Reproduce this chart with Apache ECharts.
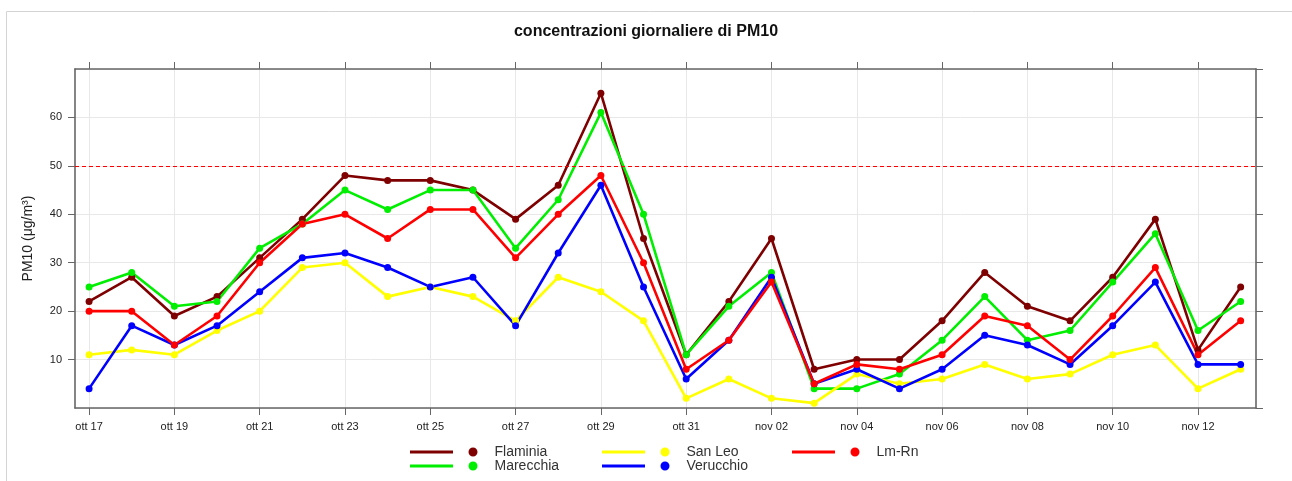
<!DOCTYPE html>
<html>
<head>
<meta charset="utf-8">
<script src="https://cdn.jsdelivr.net/npm/echarts@6/dist/echarts.min.js"></script>
<style>
  html, body { margin: 0; padding: 0; background: #fff; }
  #chart { width: 1292px; height: 481px; }
</style>
</head>
<body>
<div id="chart"></div>
<script>
const days = ['ott 17', 'ott 18', 'ott 19', 'ott 20', 'ott 21', 'ott 22', 'ott 23', 'ott 24', 'ott 25', 'ott 26',
  'ott 27', 'ott 28', 'ott 29', 'ott 30', 'ott 31', 'nov 01', 'nov 02', 'nov 03', 'nov 04', 'nov 05',
  'nov 06', 'nov 07', 'nov 08', 'nov 09', 'nov 10', 'nov 11', 'nov 12', 'nov 13'];

const flaminia  = [22, 27, 19, 23, 31, 39, 48, 47, 47, 45, 39, 46, 65, 35, 11, 22, 35, 8, 10, 10, 18, 28, 21, 18, 27, 39, 12, 25];
const marecchia = [25, 28, 21, 22, 33, 38, 45, 41, 45, 45, 33, 43, 61, 40, 11, 21, 28, 4, 4, 7, 14, 23, 14, 16, 26, 36, 16, 22];
const sanLeo    = [11, 12, 11, 16, 20, 29, 30, 23, 25, 23, 18, 27, 24, 18, 2, 6, 2, 1, 7, 5, 6, 9, 6, 7, 11, 13, 4, 8];
const verucchio = [4, 17, 13, 17, 24, 31, 32, 29, 25, 27, 17, 32, 46, 25, 6, 14, 27, 5, 8, 4, 8, 15, 13, 9, 17, 26, 9, 9];
const lmRn      = [20, 20, 13, 19, 30, 38, 40, 35, 41, 41, 31, 40, 48, 30, 8, 14, 26, 5, 9, 8, 11, 19, 17, 10, 19, 29, 11, 18];

const yTicks = [0, 10, 20, 30, 40, 50, 60, 70];
const limitValue = 50;

const seriesDefs = [
  { name: 'Flaminia', color: '#7f0000', values: flaminia },
  { name: 'Marecchia', color: '#00ee00', values: marecchia },
  { name: 'San Leo', color: '#ffff00', values: sanLeo },
  { name: 'Verucchio', color: '#0000ff', values: verucchio },
  { name: 'Lm-Rn', color: '#ff0000', values: lmRn }
];

// legend columns, as laid out under the plot
const legendCols = [['Flaminia', 'Marecchia'], ['San Leo', 'Verucchio'], ['Lm-Rn']];
const legendLeft = [410, 602, 792];

const labelIdx = days.map((d, i) => i).filter(i => i % 2 === 0);
const xMin = -0.33, xMax = 27.36;
const font = 'Liberation Sans, Arial, sans-serif';
const axisColor = '#666';
// line + gap + dot, bbox 67.5 x 9
const legendIcon = 'path://M0,3 L43,3 L43,6 L0,6 Z M58.5,4.5 A4.5,4.5 0 1,0 67.5,4.5 A4.5,4.5 0 1,0 58.5,4.5 Z';

const chart = echarts.init(document.getElementById('chart'));

const series = seriesDefs.map((s, k) => {
  const out = {
    name: s.name,
    type: 'line',
    data: s.values.map((v, i) => [i, v]),
    symbol: 'circle',
    symbolSize: 7,
    showAllSymbol: true,
    itemStyle: { color: s.color },
    lineStyle: { color: s.color, width: 2.6 },
    animation: false
  };
  if (k === 0) {
    out.markLine = {
      silent: true,
      symbol: 'none',
      label: { show: false },
      lineStyle: { color: '#ff0000', type: [4, 3], width: 1.2 },
      data: [{ yAxis: limitValue }]
    };
  }
  return out;
});

const legends = legendCols.map((names, c) => ({
  data: names,
  left: legendLeft[c],
  top: 445,
  padding: 0,
  orient: 'vertical',
  icon: legendIcon,
  itemWidth: 67.5,
  itemHeight: 9,
  itemGap: 0,
  selectedMode: false,
  textStyle: { fontFamily: font, fontSize: 14, lineHeight: 14, color: '#333', padding: [0, 0, 0, 12] }
}));

chart.setOption({
  backgroundColor: '#fff',
  animation: false,
  title: {
    text: 'concentrazioni giornaliere di PM10',
    left: 'center',
    top: 19,
    textStyle: { fontFamily: font, fontSize: 16, fontWeight: 'bold', color: '#111' }
  },
  graphic: [{
    type: 'rect',
    shape: { x: 6.5, y: 11.5, width: 1310, height: 500 },
    style: { fill: 'none', stroke: '#d4d4d4', lineWidth: 1 },
    silent: true
  }],
  legend: legends,
  grid: { left: 75, right: 36, top: 69, bottom: 73 },
  xAxis: [{
    type: 'value',
    min: xMin,
    max: xMax,
    axisLine: { onZero: false, lineStyle: { color: axisColor, width: 1.6 } },
    axisTick: { customValues: labelIdx, length: 7, lineStyle: { color: axisColor } },
    axisLabel: {
      customValues: labelIdx,
      margin: 13,
      fontFamily: font, fontSize: 11, color: '#222',
      formatter: v => days[Math.round(v)]
    },
    splitLine: { show: true, lineStyle: { color: '#e8e8e8' } }
  }, {
    type: 'value',
    position: 'top',
    min: xMin,
    max: xMax,
    axisLine: { onZero: false, lineStyle: { color: axisColor, width: 1.6 } },
    axisTick: { customValues: labelIdx, length: 7, lineStyle: { color: axisColor } },
    axisLabel: { show: false },
    splitLine: { show: false }
  }],
  yAxis: [{
    type: 'value',
    min: yTicks[0],
    max: yTicks[yTicks.length - 1],
    interval: 10,
    name: 'PM10 (\u03bcg/m\u00b3)',
    nameLocation: 'middle',
    nameGap: 40,
    nameTextStyle: { fontFamily: font, fontSize: 14, color: '#222' },
    axisLine: { show: true, onZero: false, lineStyle: { color: axisColor, width: 1.6 } },
    axisTick: { show: true, length: 7, lineStyle: { color: axisColor } },
    axisLabel: {
      margin: 13, fontFamily: font, fontSize: 11, color: '#222',
      showMinLabel: false, showMaxLabel: false
    },
    splitLine: { show: true, lineStyle: { color: '#e8e8e8' } }
  }, {
    type: 'value',
    position: 'right',
    min: yTicks[0],
    max: yTicks[yTicks.length - 1],
    interval: 10,
    axisLine: { show: true, onZero: false, lineStyle: { color: axisColor, width: 1.6 } },
    axisTick: { show: true, length: 7, lineStyle: { color: axisColor } },
    axisLabel: { show: false },
    splitLine: { show: false }
  }],
  series: series
});
</script>
</body>
</html>
